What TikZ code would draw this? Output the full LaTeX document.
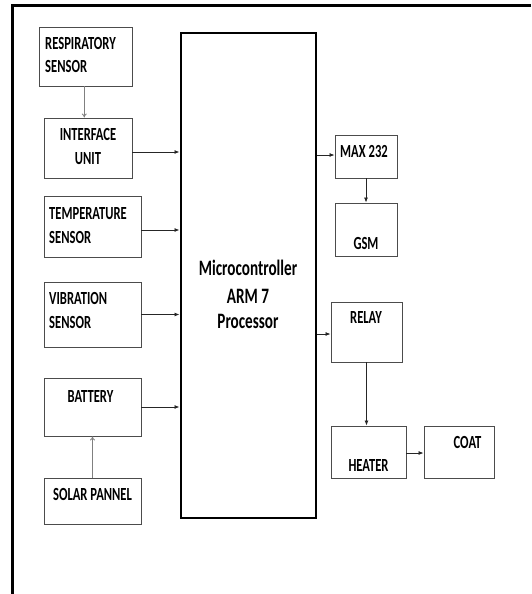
\documentclass[tikz,border=0pt]{standalone}
\usepackage{fontspec}
\setmainfont{Carlito}
\usetikzlibrary{arrows.meta}
\newcommand\sqz[1]{\scalebox{0.68}[1]{#1}}
\newcommand\sqzb[1]{\scalebox{0.69}[1]{#1}}
\begin{document}
\begin{tikzpicture}[x=1pt,y=-1pt,
  box/.style={draw=black!70,line width=0.9pt,inner sep=0pt,fill=none},
  lbl/.style={inner sep=0pt,font=\fontsize{18.5}{22}\selectfont\bfseries},
  big/.style={inner sep=0pt,font=\fontsize{22}{26}\selectfont\bfseries},
  arr/.style={line width=0.8pt,draw=black!85,-{Latex[length=5pt,width=4pt]}},
  garr/.style={line width=0.8pt,draw=black!50,-{To[length=4pt,width=5pt]}}]
\useasboundingbox (0,0) rectangle (531,594);
% outer frame (only top and left sides visible)
\draw[line width=3pt] (531,6) -- (12,6) -- (12,594);
% boxes
\node[box,minimum width=92.5,minimum height=59] (resp) at (85.75,56.5) {};
\node[box,minimum width=88,minimum height=60] (iface) at (88,148) {};
\node[box,minimum width=97,minimum height=61] (temp) at (92.5,226.5) {};
\node[box,minimum width=97,minimum height=65] (vib) at (92.5,314.5) {};
\node[box,minimum width=97,minimum height=58] (batt) at (92.5,407) {};
\node[box,minimum width=97,minimum height=46] (solar) at (92.5,501) {};
\node[draw=black,line width=2pt,inner sep=0pt,minimum width=135.5,minimum height=485] (main) at (248.25,275.5) {};
\node[box,minimum width=62,minimum height=43] (max) at (366,156.5) {};
\node[box,minimum width=62,minimum height=53] (gsm) at (366,229.5) {};
\node[box,minimum width=71,minimum height=60] (relay) at (366.5,332) {};
\node[box,minimum width=75,minimum height=52] (heater) at (368.5,452) {};
\node[box,minimum width=70,minimum height=52] (coat) at (459,452) {};
% labels
\node[lbl,anchor=base west] (t1a) at (45,49) {\sqz{RESPIRATORY}};
\node[lbl,anchor=base west] (t1b) at (45,72) {\sqz{SENSOR}};
\node[lbl,anchor=base] (t2a) at (88,140) {\sqz{INTERFACE}};
\node[lbl,anchor=base] (t2b) at (88,164) {\sqz{UNIT}};
\node[lbl,anchor=base west] (t3a) at (49,219) {\sqz{TEMPERATURE}};
\node[lbl,anchor=base west] (t3b) at (49,243) {\sqz{SENSOR}};
\node[lbl,anchor=base west] (t4a) at (49,304) {\sqz{VIBRATION}};
\node[lbl,anchor=base west] (t4b) at (49,328) {\sqz{SENSOR}};
\node[lbl,anchor=base] (t5) at (90.5,402) {\sqz{BATTERY}};
\node[lbl,anchor=base] (t6) at (92.5,500) {\sqz{SOLAR PANNEL}};
\node[big,anchor=base] (m1) at (248,275) {\sqzb{Microcontroller}};
\node[big,anchor=base] (m2) at (248,303) {\sqzb{ARM 7}};
\node[big,anchor=base] (m3) at (248,328) {\sqzb{Processor}};
\node[lbl,anchor=base] (t7) at (364,157) {\sqz{MAX 232}};
\node[lbl,anchor=base] (t8) at (366,249) {\sqz{GSM}};
\node[lbl,anchor=base] (t9) at (366,323) {\sqz{RELAY}};
\node[lbl,anchor=base] (t10) at (368.5,471) {\sqz{HEATER}};
\node[lbl,anchor=base] (t11) at (467.5,448) {\sqz{COAT}};
% connectors
\draw[garr] ([xshift=-1.5pt]resp.south) -- ([xshift=-1.5pt]resp.south |- iface.north);
\draw[arr] ([yshift=-4pt]iface.east) -- ([yshift=-4pt]iface.east -| main.west);
\draw[arr] ([yshift=-3.5pt]temp.east) -- ([yshift=-3.5pt]temp.east -| main.west);
\draw[arr] (vib.east) -- (vib.east -| main.west);
\draw[arr] (batt.east) -- (batt.east -| main.west);
\draw[garr] (solar.north) -- (batt.south);
\draw[arr] ([yshift=1.5pt]max.west -| main.east) -- ([yshift=1.5pt]max.west);
\draw[arr] (max.south) -- (gsm.north);
\draw[arr] ([yshift=-2pt]relay.west -| main.east) -- ([yshift=-2pt]relay.west);
\draw[arr] (relay.south) -- (relay.south |- heater.north);
\draw[arr] ([yshift=-1pt]heater.east) -- ([yshift=-1pt]heater.east -| coat.west);
\end{tikzpicture}
\end{document}
